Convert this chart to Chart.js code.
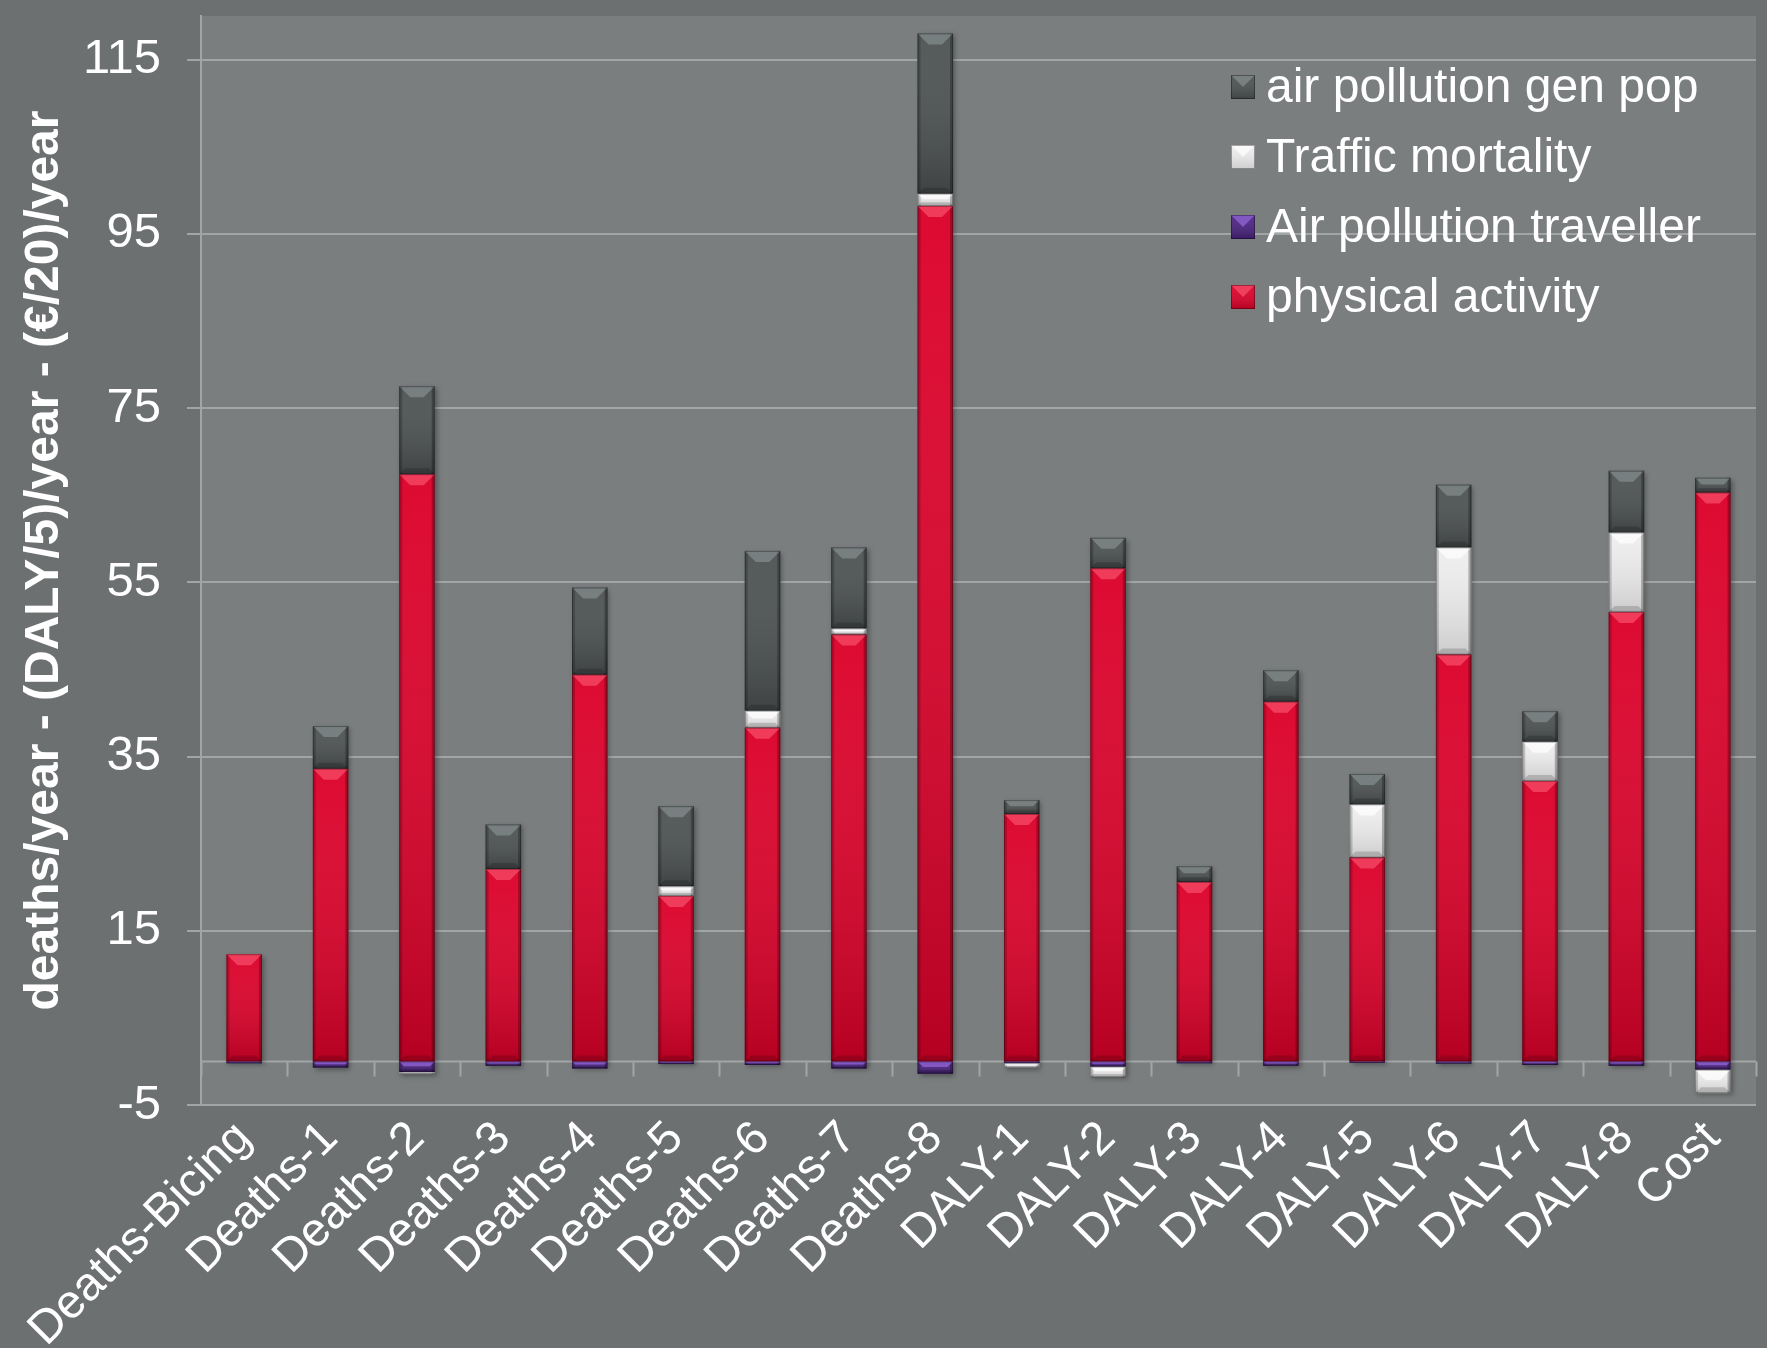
<!DOCTYPE html>
<html>
<head>
<meta charset="utf-8">
<title>Health impacts of cycling</title>
<script src="https://cdn.jsdelivr.net/npm/chart.js@4.4.1/dist/chart.umd.min.js"></script>
<style>
  html, body { margin: 0; padding: 0; background: #6c7071; }
  canvas { display: block; }
</style>
</head>
<body>
<canvas id="chart" width="1767" height="1348"></canvas>
<script>
// Categories on the x axis
const categories = ['Deaths-Bicing', 'Deaths-1', 'Deaths-2', 'Deaths-3', 'Deaths-4', 'Deaths-5', 'Deaths-6', 'Deaths-7', 'Deaths-8',
                    'DALY-1', 'DALY-2', 'DALY-3', 'DALY-4', 'DALY-5', 'DALY-6', 'DALY-7', 'DALY-8', 'Cost'];

// Stacked components (deaths/year, DALY/5 per year, €/20 per year)
const physicalActivity     = [12.3, 33.6, 67.4, 22.1, 44.4, 19.0, 38.3, 49.0, 98.2, 28.4, 56.6, 20.6, 41.3, 23.4, 46.7, 32.2, 51.6, 65.3];
const airPollutionTraveller = [-0.2, -0.7, -1.2, -0.5, -0.8, -0.3, -0.4, -0.8, -1.4, -0.2, -0.6, -0.2, -0.5, -0.15, -0.25, -0.4, -0.5, -0.95];
const trafficMortality     = [0, 0, -0.2, 0, 0, 1.1, 1.95, 0.7, 1.4, -0.5, -1.2, 0, 0, 6.1, 12.3, 4.5, 9.1, -2.7];
const airPollutionGenPop   = [0, 4.9, 10.1, 5.1, 10.0, 9.2, 18.35, 9.3, 18.4, 1.6, 3.5, 1.8, 3.6, 3.5, 7.2, 3.5, 7.1, 1.7];

// Y axis tick values
const yTicks = [-5, 15, 35, 55, 75, 95, 115];

const FONT = '"Liberation Sans", Arial, Helvetica, sans-serif';
const GRID = '#a2a5a6';

// Fill colours and bevel strength per series
const styles = {
  'physical activity':       { fill: '#dc0029', facet: 'rgba(255,100,125,0.55)', shade: 'rgba(60,0,10,0.24)' },
  'Air pollution traveller': { fill: '#4b2282', facet: 'rgba(170,120,240,0.55)', shade: 'rgba(0,0,0,0.25)' },
  'Traffic mortality':       { fill: '#eeeeee', facet: 'rgba(255,255,255,0.7)',  shade: 'rgba(0,0,0,0.14)' },
  'air pollution gen pop':   { fill: '#4e5354', facet: 'rgba(160,170,170,0.45)', shade: 'rgba(0,0,0,0.2)' }
};

function barBox(el) {
  const p = el.getProps(['x', 'y', 'base', 'width'], true);
  const top = Math.min(p.y, p.base), bot = Math.max(p.y, p.base);
  return { l: p.x - p.width / 2, r: p.x + p.width / 2, top, bot, h: bot - top, w: p.width };
}

// Backgrounds, zero line, category tick marks, bar bevels and legend
const frame = {
  id: 'frame',
  beforeDraw(chart) {
    const { ctx, chartArea: a } = chart;
    ctx.save();
    ctx.fillStyle = '#6c7071';
    ctx.fillRect(0, 0, chart.width, chart.height);
    ctx.fillStyle = '#7b7e7f';
    ctx.fillRect(a.left, a.top, a.right - a.left, a.bottom - a.top);
    ctx.restore();
  },
  beforeDatasetsDraw(chart) {
    const { ctx, chartArea: a, scales } = chart;
    const y0 = scales.y.getPixelForValue(0);
    ctx.save();
    ctx.strokeStyle = GRID;
    ctx.lineWidth = 2;
    ctx.beginPath();
    ctx.moveTo(a.left, y0);
    ctx.lineTo(a.right, y0);
    const n = categories.length;
    for (let i = 0; i <= n; i++) {
      const x = i === 0 ? a.left : (i === n ? a.right : (scales.x.getPixelForValue(i - 1) + scales.x.getPixelForValue(i)) / 2);
      ctx.moveTo(Math.round(x) + 0.5, y0);
      ctx.lineTo(Math.round(x) + 0.5, y0 + 15);
    }
    ctx.stroke();

    // soft shadow behind each full stack
    for (let i = 0; i < n; i++) {
      let top = Infinity, bot = -Infinity, l = 0, w = 0;
      chart.data.datasets.forEach((ds, di) => {
        const el = chart.getDatasetMeta(di).data[i];
        const b = barBox(el);
        if (b.h < 0.5) return;
        top = Math.min(top, b.top); bot = Math.max(bot, b.bot); l = b.l; w = b.w;
      });
      if (!isFinite(top)) continue;
      ctx.shadowColor = 'rgba(0,0,0,0.35)';
      ctx.shadowBlur = 5;
      ctx.shadowOffsetX = 2;
      ctx.shadowOffsetY = 2;
      ctx.fillStyle = '#5a5d5e';
      ctx.fillRect(l, top, w, bot - top);
    }
    ctx.restore();
  },
  afterDatasetsDraw(chart) {
    const ctx = chart.ctx;
    ctx.save();
    chart.data.datasets.forEach((ds, di) => {
      const st = styles[ds.label];
      chart.getDatasetMeta(di).data.forEach(el => {
        const b = barBox(el);
        if (b.h < 0.8) return;
        // vertical shading
        const g = ctx.createLinearGradient(0, b.top, 0, b.bot);
        g.addColorStop(0, 'rgba(255,255,255,0.04)');
        g.addColorStop(1, st.shade);
        ctx.fillStyle = g;
        ctx.fillRect(b.l, b.top, b.w, b.h);
        // side edges
        const e = 3;
        ctx.fillStyle = 'rgba(0,0,0,0.18)';
        ctx.fillRect(b.l, b.top, e, b.h);
        ctx.fillStyle = 'rgba(0,0,0,0.26)';
        ctx.fillRect(b.r - e, b.top, e, b.h);
        // top facet
        const th = Math.min(11, b.h * 0.45);
        ctx.fillStyle = st.facet;
        ctx.beginPath();
        ctx.moveTo(b.l, b.top);
        ctx.lineTo(b.r, b.top);
        ctx.lineTo(b.r - th, b.top + th);
        ctx.lineTo(b.l + th, b.top + th);
        ctx.closePath();
        ctx.fill();
        // bottom facet
        const bh = Math.min(6, b.h * 0.3);
        ctx.fillStyle = 'rgba(0,0,0,0.16)';
        ctx.beginPath();
        ctx.moveTo(b.l, b.bot);
        ctx.lineTo(b.r, b.bot);
        ctx.lineTo(b.r - bh, b.bot - bh);
        ctx.lineTo(b.l + bh, b.bot - bh);
        ctx.closePath();
        ctx.fill();
        // outline
        ctx.strokeStyle = 'rgba(0,0,0,0.3)';
        ctx.lineWidth = 1;
        ctx.strokeRect(b.l + 0.5, b.top + 0.5, b.w - 1, b.h - 1);
      });
    });
    ctx.restore();
  },
  afterDraw(chart) {
    // legend, top series first
    const ctx = chart.ctx;
    const items = chart.data.datasets.map(d => d.label).reverse();
    ctx.save();
    ctx.font = '48px ' + FONT;
    ctx.textBaseline = 'middle';
    items.forEach((name, k) => {
      const st = styles[name];
      const cy = 87 + k * 70;
      const x = 1231, s = 24, top = cy - s / 2;
      ctx.fillStyle = st.fill;
      ctx.fillRect(x, top, s, s);
      const g = ctx.createLinearGradient(0, top, 0, top + s);
      g.addColorStop(0, 'rgba(255,255,255,0.05)');
      g.addColorStop(1, st.shade);
      ctx.fillStyle = g;
      ctx.fillRect(x, top, s, s);
      ctx.fillStyle = st.facet;
      ctx.beginPath();
      ctx.moveTo(x, top); ctx.lineTo(x + s, top); ctx.lineTo(x + s / 2, top + s / 2);
      ctx.closePath(); ctx.fill();
      ctx.strokeStyle = 'rgba(0,0,0,0.35)';
      ctx.strokeRect(x + 0.5, top + 0.5, s - 1, s - 1);
      ctx.fillStyle = '#ffffff';
      ctx.fillText(name, 1266, cy + 2);
    });
    ctx.restore();
  }
};

const seriesList = [
  ['physical activity', physicalActivity],
  ['Air pollution traveller', airPollutionTraveller],
  ['Traffic mortality', trafficMortality],
  ['air pollution gen pop', airPollutionGenPop]
];

new Chart(document.getElementById('chart'), {
  type: 'bar',
  data: {
    labels: categories,
    datasets: seriesList.map(([label, values]) => ({
      label,
      data: values,
      backgroundColor: styles[label].fill,
      borderWidth: 0,
      categoryPercentage: 1,
      barPercentage: 0.41
    }))
  },
  options: {
    responsive: false,
    animation: false,
    devicePixelRatio: 1,
    layout: { padding: { top: 16, right: 11, left: 0, bottom: 0 } },
    plugins: { legend: { display: false }, tooltip: { enabled: false } },
    scales: {
      x: {
        stacked: true,
        grid: { display: false, drawTicks: false },
        border: { display: false },
        ticks: {
          color: '#ffffff',
          font: { size: 47, family: FONT },
          minRotation: 45,
          maxRotation: 45,
          autoSkip: false,
          padding: 6
        },
        afterFit(scale) { scale.height = 243; }
      },
      y: {
        stacked: true,
        min: -5,
        max: 120,
        afterBuildTicks(scale) { scale.ticks = yTicks.map(v => ({ value: v })); },
        grid: { color: GRID, lineWidth: 2, tickLength: 14, drawTicks: true },
        border: { display: true, color: GRID, width: 2 },
        ticks: { color: '#ffffff', font: { size: 49, family: FONT }, padding: 26 },
        title: {
          display: true,
          text: 'deaths/year - (DALY/5)/year - (€/20)/year',
          color: '#ffffff',
          font: { size: 48, weight: 'bold', family: FONT },
          padding: { top: 16, bottom: 0 }
        },
        afterFit(scale) {
          scale.width = 201;
          scale.paddingTop = 0;
          scale.paddingBottom = 0;
        }
      }
    }
  },
  plugins: [frame]
});
</script>
</body>
</html>
